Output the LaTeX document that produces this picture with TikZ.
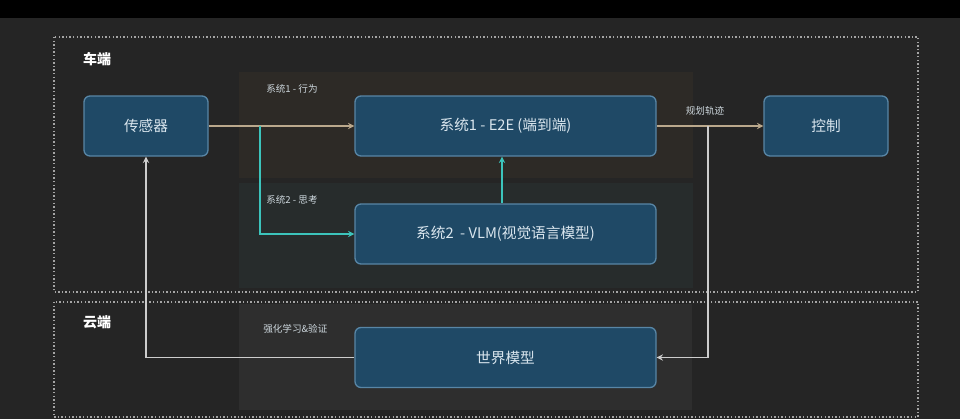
\documentclass[tikz,border=0pt]{standalone}
\usepackage{fontspec}
\setmainfont{Noto Sans CJK SC}
\usepackage{tikz}
\usetikzlibrary{arrows,positioning,calc}
\definecolor{bgdark}{RGB}{37,37,37}
\definecolor{bandbrown}{RGB}{45,42,38}
\definecolor{bandteal}{RGB}{39,44,44}
\definecolor{bandgray}{RGB}{46,46,46}
\definecolor{nodefill}{RGB}{31,73,102}
\definecolor{nodeline}{RGB}{88,134,166}
\definecolor{nodetext}{RGB}{218,230,238}
\definecolor{arrowtan}{RGB}{186,168,140}
\definecolor{arrowteal}{RGB}{60,196,188}
\definecolor{arrowgray}{RGB}{205,205,205}
\definecolor{dotgray}{RGB}{165,165,165}
\tikzstyle{block} = [rectangle, draw=nodeline, fill=nodefill, line width=1pt, rounded corners=4.5pt, text=nodetext, font=\fontsize{11}{13}\selectfont, minimum height=45pt]
\tikzstyle{zone} = [draw=dotgray, line width=1.1pt, dash pattern=on 1.1pt off 1.6pt]
\tikzstyle{small} = [font=\fontsize{7.2}{8}\selectfont, text=nodetext!85!gray, inner sep=0pt]
\tikzstyle{tanarrow} = [line width=1.1pt,->,>=stealth,color=arrowtan]
\tikzstyle{tealarrow} = [line width=1.1pt,->,>=stealth,color=arrowteal]
\tikzstyle{grayarrow} = [line width=1.1pt,->,>=stealth,color=arrowgray]

\begin{document}
\begin{tikzpicture}[x=0.75pt, y=-0.75pt]
    % Background
    \fill[black] (0,0) rectangle (960,419);
    \fill[bgdark] (0,18) rectangle (960,419);
    \useasboundingbox (0,0) rectangle (960,419);

    % Bands
    \fill[bandbrown] (239,72) rectangle (693,178);
    \fill[bandteal] (239,183) rectangle (693,288);
    \fill[bandgray] (239,304) rectangle (692,410);

    % Zones
    \draw[zone] (54,37) rectangle (918,292);
    \draw[zone] (54,302) rectangle (918,417);
    \node[font=\fontsize{10.5}{12}\selectfont\bfseries, text=white] (carzone) at (97,59) {车端};
    \node[font=\fontsize{10.5}{12}\selectfont\bfseries, text=white] (cloudzone) at (97,322) {云端};

    % Blocks
    \node[block, minimum width=93pt] (sensor) at (146,126) {传感器};
    \node[block, minimum width=225.75pt] (sysone) at (505.5,126) {系统1 - E2E (端到端)};
    \node[block, minimum width=93pt] (control) at (826,126) {控制};
    \node[block, minimum width=225.75pt] (systwo) at (505.5,234) {系统2 \ - VLM(视觉语言模型)};
    \node[block, minimum width=225.75pt] (world) at (505.5,357.5) {世界模型};

    % Labels
    \node[small, anchor=west] (actlabel) at (266,89) {系统1 - 行为};
    \node[small, anchor=west] (thinklabel) at (266,200) {系统2 - 思考};
    \node[small, anchor=west] (rllabel) at (263,329) {强化学习\&验证};
    \node[small] (planlabel) at (705,111) {规划轨迹};

    % Arrows
    \coordinate (splitone) at (260,126);
    \coordinate (splittwo) at (708,126);
    \draw[tanarrow] (sensor.east) -- (sysone.west);
    \draw[tealarrow] (splitone) |- (systwo.west);
    \draw[tealarrow] (systwo.north -| 502,0) -- (sysone.south -| 502,0);
    \draw[tanarrow] (sysone.east) -- (control.west);
    \draw[grayarrow] (splittwo) |- (world.east);
    \draw[grayarrow] (world.west) -| (sensor.south);
\end{tikzpicture}
\end{document}
